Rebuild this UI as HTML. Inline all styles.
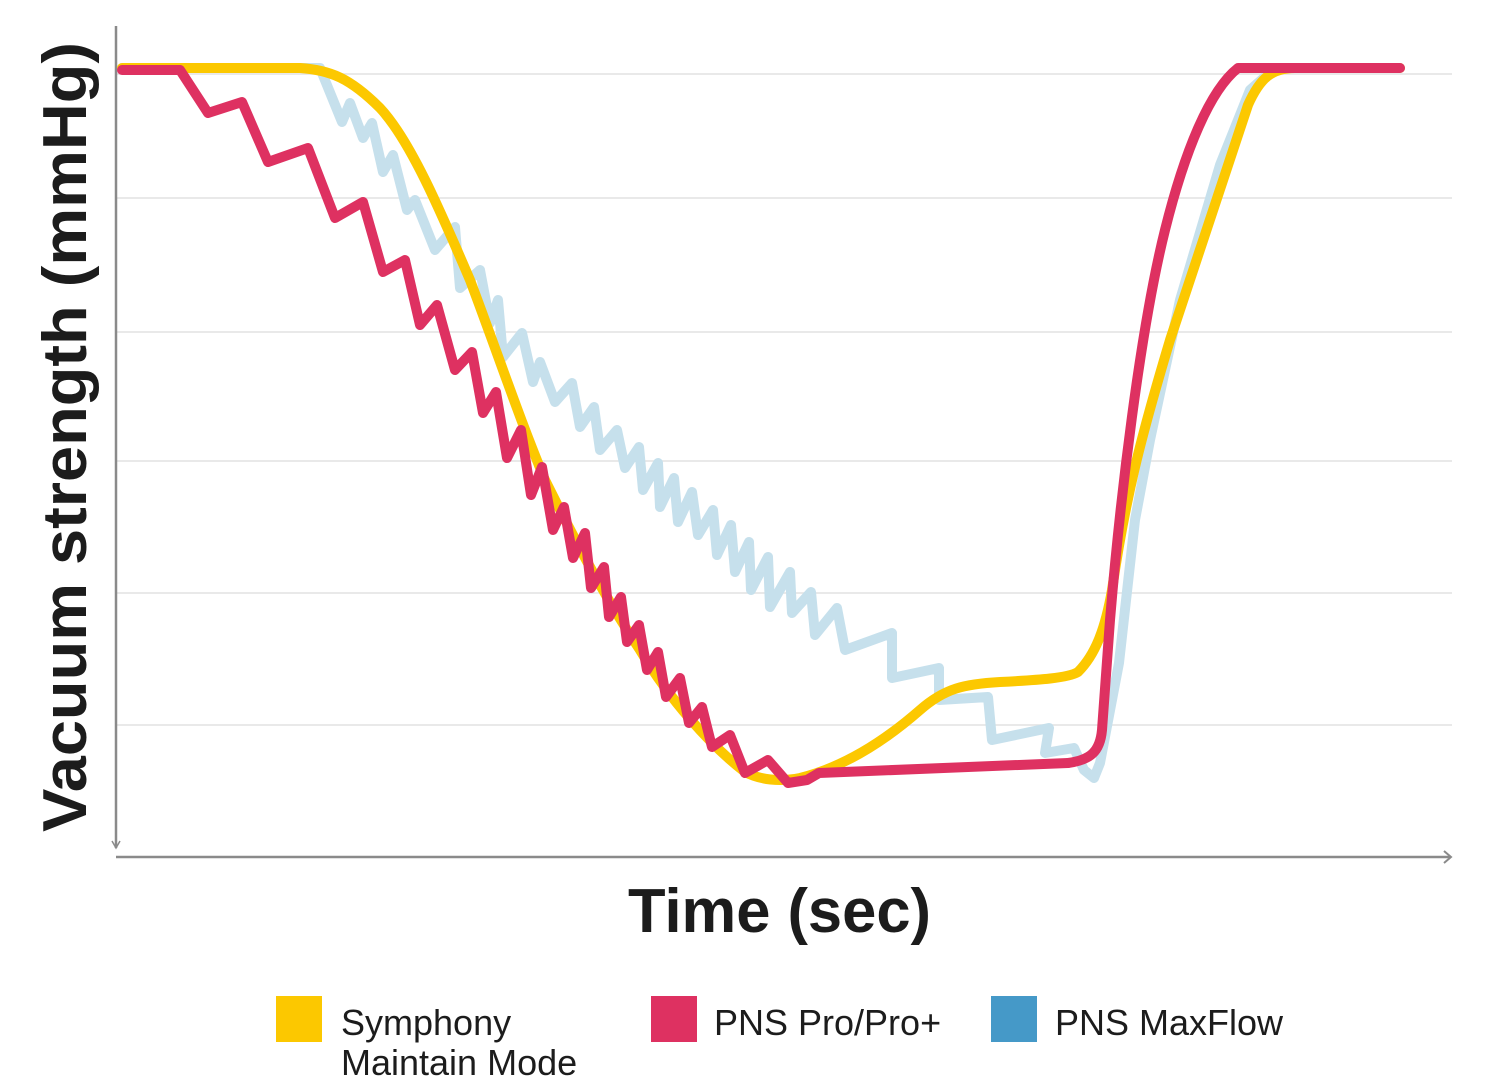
<!DOCTYPE html>
<html><head><meta charset="utf-8"><style>
html,body{margin:0;padding:0;background:#fff;}
svg{display:block;}
</style></head><body>
<svg width="1500" height="1088" viewBox="0 0 1500 1088" xmlns="http://www.w3.org/2000/svg" font-family="Liberation Sans, sans-serif">
<g stroke="#e2e2e2" stroke-width="1.5">
<line x1="116" y1="74" x2="1452" y2="74"/>
<line x1="116" y1="198" x2="1452" y2="198"/>
<line x1="116" y1="332" x2="1452" y2="332"/>
<line x1="116" y1="461" x2="1452" y2="461"/>
<line x1="116" y1="593" x2="1452" y2="593"/>
<line x1="116" y1="725" x2="1452" y2="725"/>
</g>
<g stroke="#8a8a8a" stroke-width="2.5" fill="none">
<line x1="116" y1="26" x2="116" y2="848"/>
<polyline points="112,841 116,848 120,841" stroke-width="1.5"/>
<line x1="116" y1="857" x2="1450" y2="857"/>
<polyline points="1444,851 1451,857 1444,863" stroke-width="2"/>
</g>
<g fill="none" stroke-width="10" stroke-linejoin="round" stroke-linecap="round">
<polyline stroke="#c6e0ec" points="122,68 320,68 342,122 350,103 363,138 372,123 383,172 393,155 407,210 415,200 435,250 455,227 460,288 480,270 490,323 498,300 503,357 522,333 533,382 540,362 555,402 572,383 580,427 594,407 600,450 617,430 625,468 639,447 643,490 658,463 660,507 674,478 678,522 692,492 698,535 713,510 717,555 731,525 735,572 749,542 751,590 768,557 770,607 790,572 792,613 811,592 815,635 837,608 845,650 892,633 892,678 939,668 939,700 988,697 992,740 1049,728 1045,753 1074,748 1084,770 1094,778 1100,763 1119,663 1135,520 1150,440 1180,300 1220,165 1250,90 1275,68 1400,68"/>
<path stroke="#fcc800" d="M122,68 L300,68 C330,70 350,78 380,108 C410,140 440,210 470,280 C500,360 520,420 545,480 C570,530 600,590 640,650 C670,700 710,745 745,772 C760,780 780,782 800,778 C840,768 880,745 920,710 C945,688 965,684 1000,682 C1040,680 1068,678 1078,672 C1095,655 1105,630 1112,590 C1125,500 1140,440 1170,340 C1200,250 1230,160 1248,105 C1260,78 1272,68 1295,68 L1400,68"/>
<polyline stroke="#de3161" points="122,70 180,70 208,113 242,102 268,162 308,148 335,218 363,202 383,272 405,260 420,325 437,305 455,370 472,352 483,413 496,392 507,458 521,430 531,495 542,467 553,530 564,507 573,558 585,533 591,588 604,567 609,617 621,597 627,642 639,625 647,670 658,652 666,697 680,678 689,723 702,707 712,747 730,735 745,773 768,760 788,783 807,780 819,773 1068,763"/>
<path stroke="#de3161" d="M1068,763 C1090,760 1100,752 1102,730 L1110,620 C1120,500 1140,330 1165,230 C1185,150 1210,90 1238,68 L1400,68"/>
</g>
<text x="0" y="0" transform="translate(86,832) rotate(-90)" font-size="62" font-weight="bold" fill="#1c1c1c" textLength="790" lengthAdjust="spacingAndGlyphs">Vacuum strength (mmHg)</text>
<text x="628" y="932" font-size="62" font-weight="bold" fill="#1c1c1c" textLength="303" lengthAdjust="spacingAndGlyphs">Time (sec)</text>
<rect x="276" y="996" width="46" height="46" fill="#fcc800"/>
<rect x="651" y="996" width="46" height="46" fill="#de3161"/>
<rect x="991" y="996" width="46" height="46" fill="#4599c8"/>
<g font-size="36" fill="#1c1c1c">
<text x="341" y="1035">Symphony</text>
<text x="341" y="1075">Maintain Mode</text>
<text x="714" y="1035">PNS Pro/Pro+</text>
<text x="1055" y="1035">PNS MaxFlow</text>
</g>
</svg>
</body></html>
